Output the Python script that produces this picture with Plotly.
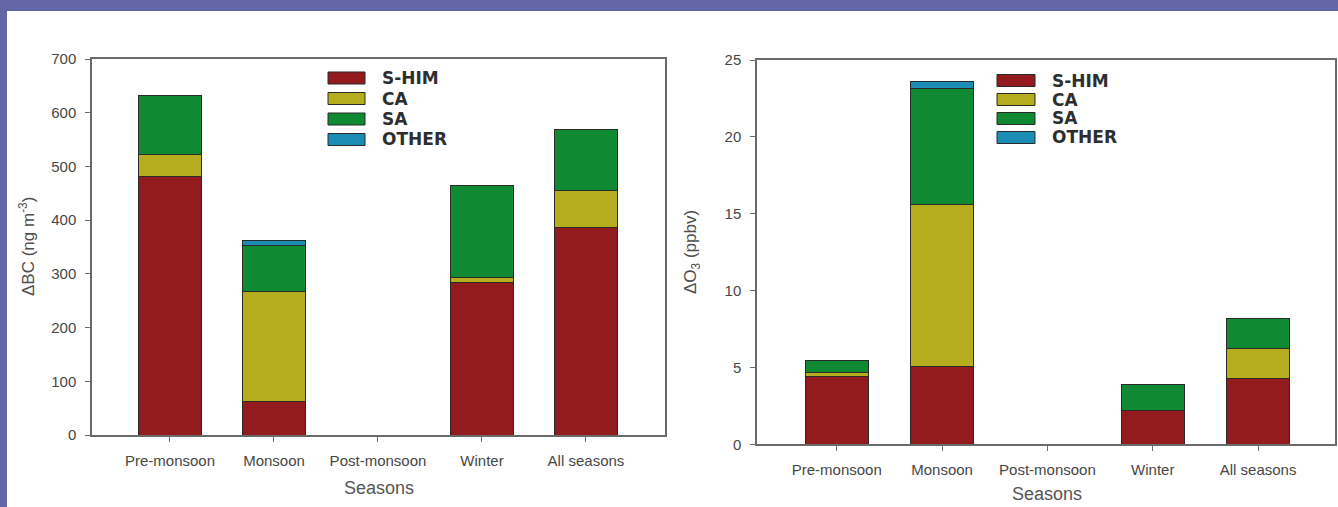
import plotly.graph_objects as go

# Seasons on the category axis
seasons = ["Pre-monsoon", "Monsoon", "Post-monsoon", "Winter", "All seasons"]

# Source-region contributions to black carbon (ng m-3)
bc_shim = [481, 62, 0, 283, 387]
bc_ca = [42, 205, 0, 11, 69]
bc_sa = [109, 86, 0, 170, 112]
bc_other = [0, 10, 0, 0, 0]

# Source-region contributions to ozone (ppbv)
o3_shim = [4.44, 5.05, 0, 2.23, 4.29]
o3_ca = [0.24, 10.52, 0, 0, 1.91]
o3_sa = [0.76, 7.56, 0, 1.69, 2.0]
o3_other = [0, 0.49, 0, 0, 0]

regions = ["S-HIM", "CA", "SA", "OTHER"]
colors = ["#931a1d", "#b6ad1e", "#0f8a33", "#1b8db5"]

W, H = 1338, 507
BORDER = "#6265a6"
SANS = "Liberation Sans, Arial, sans-serif"
TICK_FONT = dict(family=SANS, size=15, color="#474747")
KEY_FONT = dict(family="DejaVu Sans, sans-serif", size=17, color="#2e2e2e", weight="bold")
OUTLINE = "#2a2a2a"


def px_x(v):
    return v / W


def px_y(v):
    return 1 - v / H


fig = go.Figure()

panels = [
    ([bc_shim, bc_ca, bc_sa, bc_other], "x", "y"),
    ([o3_shim, o3_ca, o3_sa, o3_other], "x2", "y2"),
]
for series, xa, ya in panels:
    for name, vals, col in zip(regions, series, colors):
        fig.add_trace(go.Bar(
            x=seasons, y=vals, name=name, xaxis=xa, yaxis=ya,
            width=0.6, showlegend=False,
            marker=dict(color=col, line=dict(color=OUTLINE, width=1)),
        ))

axis_common = dict(
    showgrid=False, zeroline=False, showline=True, linecolor="#6a6a6a",
    linewidth=1.5, mirror=True, ticks="outside", ticklen=5, tickwidth=1,
    tickcolor="#6a6a6a", tickfont=TICK_FONT, ticklabelstandoff=6,
    automargin=False,
)

fig.update_layout(
    width=W, height=H,
    margin=dict(l=0, r=0, t=0, b=0, autoexpand=False),
    paper_bgcolor="white", plot_bgcolor="white",
    barmode="stack", showlegend=False,
    xaxis=dict(domain=[px_x(92), px_x(665)], range=[-0.75, 4.76],
               anchor="y", **axis_common),
    yaxis=dict(domain=[px_y(435), px_y(59)], range=[0, 700], dtick=100,
               anchor="x", **axis_common),
    xaxis2=dict(domain=[px_x(757), px_x(1335)], range=[-0.757, 4.73],
                anchor="y2", **axis_common),
    yaxis2=dict(domain=[px_y(444.3), px_y(60)], range=[0, 25], dtick=5,
                anchor="x2", **axis_common),
    font=dict(family=SANS),
)


# Source-region keys drawn as wide swatches with bold labels
def add_key(left, top, step, sw_w, text_x):
    for i, (name, col) in enumerate(zip(regions, colors)):
        cy = top + i * step
        fig.add_shape(type="rect", xref="paper", yref="paper",
                      x0=px_x(left), x1=px_x(left + sw_w),
                      y0=px_y(cy + 6), y1=px_y(cy - 6),
                      fillcolor=col, line=dict(color=OUTLINE, width=1))
        fig.add_annotation(text=name, x=px_x(text_x), y=px_y(cy),
                           xref="paper", yref="paper", showarrow=False,
                           xanchor="left", yanchor="middle", font=KEY_FONT)


add_key(328, 78, 20.5, 37, 380)
add_key(997, 80.5, 19, 38, 1050)

# Axis titles
title_font = dict(family=SANS, size=17, color="#4d4d4d")
seasons_font = dict(family=SANS, size=18, color="#555555")
fig.add_annotation(text="ΔBC (ng m<sup>-3</sup>)", x=px_x(27), y=px_y(247),
                   xref="paper", yref="paper", textangle=-90, showarrow=False,
                   xanchor="center", yanchor="middle", font=title_font)
fig.add_annotation(text="ΔO<sub>3</sub> (ppbv)", x=px_x(692), y=px_y(252),
                   xref="paper", yref="paper", textangle=-90, showarrow=False,
                   xanchor="center", yanchor="middle", font=title_font)
fig.add_annotation(text="Seasons", x=px_x(379), y=px_y(488), xref="paper", yref="paper",
                   showarrow=False, xanchor="center", yanchor="middle", font=seasons_font)
fig.add_annotation(text="Seasons", x=px_x(1047), y=px_y(494), xref="paper", yref="paper",
                   showarrow=False, xanchor="center", yanchor="middle", font=seasons_font)

# Frame band along the top and left edges
fig.add_shape(type="rect", xref="paper", yref="paper", x0=0, x1=1, y0=px_y(11), y1=1,
              fillcolor=BORDER, line=dict(width=0), layer="above")
fig.add_shape(type="rect", xref="paper", yref="paper", x0=0, x1=px_x(7), y0=0, y1=1,
              fillcolor=BORDER, line=dict(width=0), layer="above")

fig.write_html("out.html")
